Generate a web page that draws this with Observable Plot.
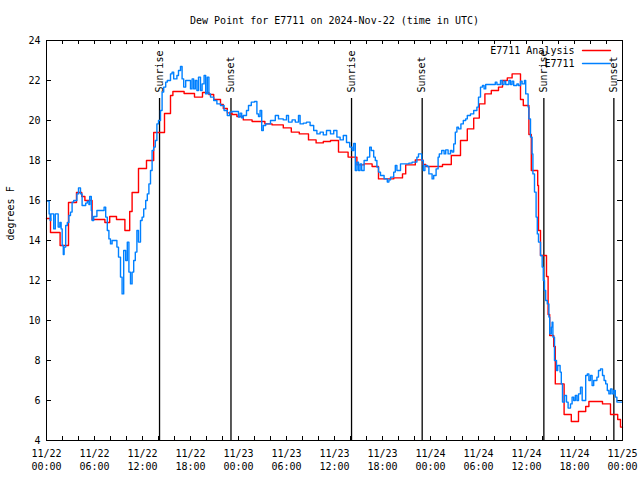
<!DOCTYPE html>
<html><head><meta charset="utf-8">
<script src="https://cdn.jsdelivr.net/npm/d3@7"></script>
<script src="https://cdn.jsdelivr.net/npm/@observablehq/plot@0.6"></script>
<style>body{margin:0;background:#fff}</style>
</head><body><div id="chart"></div>
<script>
const title = "Dew Point for E7711 on 2024-Nov-22 (time in UTC)";
const yLabel = "degrees F";
const startUTC = Date.UTC(2024, 10, 22, 0, 0);
const yTicks = [4, 6, 8, 10, 12, 14, 16, 18, 20, 22, 24];
const xTickHours = [0, 6, 12, 18, 24, 30, 36, 42, 48, 54, 60, 66, 72];
const xTickLabels = ["11/22\n00:00", "11/22\n06:00", "11/22\n12:00", "11/22\n18:00",
  "11/23\n00:00", "11/23\n06:00", "11/23\n12:00", "11/23\n18:00",
  "11/24\n00:00", "11/24\n06:00", "11/24\n12:00", "11/24\n18:00", "11/25\n00:00"];
const xMinorHours = [0, 2, 4, 6, 8, 10, 12, 14, 16, 18, 20, 22, 24, 26, 28, 30, 32, 34, 36,
  38, 40, 42, 44, 46, 48, 50, 52, 54, 56, 58, 60, 62, 64, 66, 68, 70, 72];
const eventNames = ["Sunrise", "Sunset", "Sunrise", "Sunset", "Sunrise", "Sunset"];
const eventHours = [14.13, 23.06, 38.13, 46.96, 62.17, 70.92];
const seriesNames = ["E7711 Analysis", "E7711"];
const seriesColors = ["#ff0000", "#0080ff"];

// [hours since 2024-11-22 00:00 UTC, dew point °F]
const analysis = [
  [0, 15.1], [0.5, 14.4], [1.7, 13.75], [2.75, 15.9], [3.75, 16.4], [4.4, 16.2], [4.8, 16.0],
  [5.7, 15.05], [7.3, 14.9], [7.9, 15.2], [8.75, 15.05], [9.8, 14.5], [10.4, 15.45], [10.7, 16.4],
  [11.5, 17.6], [12.5, 18.0], [13.4, 19.4], [14.75, 20.35], [15.5, 21.25], [15.8, 21.45],
  [17.2, 21.35], [18.5, 21.17], [19.5, 21.4], [20.3, 21.3], [20.9, 21.05], [21.75, 20.8],
  [22.1, 20.6], [22.6, 20.38], [23.2, 20.3], [23.8, 20.2], [24.6, 20.03], [25.7, 19.95],
  [27.3, 19.83], [28.2, 19.78], [29.6, 19.63], [30.6, 19.42], [31.6, 19.33], [32.75, 19.03],
  [33.7, 18.88], [34.6, 18.95], [35.5, 19.0], [36.5, 18.42], [37.7, 18.17], [38.8, 17.78],
  [39.7, 17.83], [40.7, 17.7], [41.5, 17.08], [43.4, 17.13], [44.5, 17.33], [44.9, 17.78],
  [46.1, 18.03], [47.05, 17.8], [47.4, 17.7], [49.5, 17.8], [50.6, 18.25], [51.75, 19.0],
  [52.6, 19.58], [53.4, 20.12], [54.1, 20.83], [54.8, 21.33], [55.6, 21.5], [56.5, 21.67],
  [57.0, 22.0], [57.6, 22.13], [58.2, 22.33], [59.25, 21.05], [59.6, 20.75], [60.3, 19.3],
  [60.6, 17.5], [61.4, 16.75], [61.5, 14.5], [61.75, 13.25], [62.5, 12.2], [62.7, 10.3],
  [62.9, 9.25], [63.4, 8.7], [63.6, 6.83], [64.7, 5.3], [65.6, 4.95], [66.5, 5.45], [67.4, 5.7],
  [67.8, 5.95], [69.5, 5.83], [70.5, 5.3], [71.4, 5.05], [71.75, 4.67], [72, 4.67]
];

const observed = [
  [0, 15.97], [0.33, 15.33], [0.45, 15.0], [0.55, 15.33], [0.9, 14.58], [1.1, 15.33], [1.46, 14.67],
  [1.67, 14.9], [1.83, 14.58], [1.96, 13.75], [2.1, 13.3], [2.2, 13.67], [2.4, 14.75], [2.6, 14.9],
  [2.8, 15.25], [3.0, 15.42], [3.2, 15.92], [3.4, 16.0], [3.8, 16.33], [4.0, 16.63], [4.25, 16.33],
  [4.45, 15.75], [4.9, 15.87], [5.1, 15.97], [5.3, 15.8], [5.4, 16.2], [5.6, 15.5], [5.7, 15.0],
  [5.9, 15.2], [6.3, 15.5], [7.2, 15.67], [7.4, 15.17], [7.6, 14.5], [7.8, 14.08], [8.0, 13.83],
  [8.2, 14.0], [8.8, 13.67], [9.0, 13.17], [9.25, 12.17], [9.45, 11.33], [9.65, 13.5], [9.9, 13.0],
  [10.1, 13.92], [10.3, 12.42], [10.5, 11.83], [10.7, 12.42], [10.9, 13.0], [11.1, 13.42],
  [11.3, 14.5], [11.5, 13.92], [11.75, 15.0], [11.95, 15.17], [12.15, 15.58], [12.4, 16.0],
  [12.6, 16.33], [12.8, 16.83], [13.0, 17.5], [13.2, 18.5], [13.4, 18.67], [13.6, 19.0],
  [13.8, 19.83], [14.0, 20.0], [14.25, 20.5], [14.45, 21.42], [14.65, 21.67], [14.9, 21.92],
  [15.1, 22.0], [15.5, 22.33], [15.7, 22.42], [15.9, 22.08], [16.3, 22.25], [16.5, 22.5],
  [16.75, 22.7], [16.95, 22.08], [17.15, 21.67], [17.4, 22.0], [18.0, 21.58], [18.2, 22.08],
  [18.4, 21.58], [18.6, 22.0], [18.8, 21.5], [19.0, 22.17], [19.25, 21.5], [19.45, 21.83],
  [19.7, 22.25], [19.9, 21.33], [20.1, 22.17], [20.3, 21.33], [20.5, 21.17], [20.9, 21.0],
  [21.3, 20.83], [21.75, 20.75], [22.2, 20.5], [22.6, 20.25], [22.9, 20.42], [23.2, 20.45],
  [24.0, 20.17], [24.2, 20.37], [24.4, 20.13], [24.6, 20.25], [25.0, 20.5], [25.25, 20.75],
  [25.6, 20.92], [26.0, 20.95], [26.3, 20.33], [26.5, 20.2], [26.7, 20.5], [26.9, 19.5],
  [27.1, 19.75], [27.4, 19.83], [28.0, 20.0], [28.6, 20.25], [29.0, 20.08], [29.6, 20.03],
  [30.0, 20.25], [30.25, 19.92], [30.7, 20.03], [31.1, 19.92], [31.5, 20.25], [31.7, 19.83],
  [32.1, 19.87], [32.5, 19.92], [32.95, 19.75], [33.4, 19.5], [33.8, 19.33], [34.2, 19.42],
  [34.6, 19.28], [35.0, 19.5], [35.5, 19.33], [35.9, 19.5], [36.3, 19.17], [36.7, 19.03],
  [37.1, 19.25], [37.5, 18.9], [37.9, 18.67], [38.2, 18.5], [38.4, 18.85], [38.6, 17.5],
  [38.8, 17.92], [39.0, 17.5], [39.2, 17.83], [39.4, 17.5], [39.7, 18.0], [40.1, 18.17],
  [40.4, 18.67], [40.6, 18.5], [40.9, 18.17], [41.1, 18.0], [41.3, 17.67], [41.5, 17.42],
  [41.75, 17.25], [42.2, 17.08], [42.6, 16.92], [42.8, 17.03], [43.0, 17.17], [43.4, 17.42],
  [43.6, 17.75], [43.8, 17.5], [44.25, 17.83], [45.3, 17.87], [45.7, 17.92], [46.3, 18.17],
  [46.5, 18.33], [46.9, 18.0], [47.1, 17.5], [47.3, 17.75], [47.6, 17.7], [47.8, 17.33],
  [48.2, 17.08], [48.4, 17.25], [48.7, 17.58], [48.95, 18.17], [49.1, 18.33], [49.4, 18.5],
  [49.7, 18.33], [49.9, 18.53], [50.2, 18.33], [50.5, 18.5], [50.7, 18.42], [50.9, 18.83],
  [51.1, 19.42], [51.3, 19.67], [51.5, 19.58], [51.8, 19.83], [52.1, 20.0], [52.4, 20.08],
  [52.6, 20.25], [53.0, 20.33], [53.4, 20.5], [53.8, 20.67], [54.0, 21.17], [54.25, 21.67],
  [54.5, 21.75], [54.7, 21.58], [54.9, 21.8], [56.1, 21.92], [56.3, 21.8], [56.75, 22.0],
  [56.96, 21.8], [57.2, 21.97], [57.4, 21.8], [57.8, 22.0], [58.0, 21.8], [58.2, 21.97],
  [58.4, 21.75], [58.8, 21.83], [59.0, 21.75], [59.25, 21.97], [59.45, 21.83], [59.75, 22.0],
  [59.9, 21.33], [60.2, 20.67], [60.3, 20.08], [60.5, 19.17], [60.7, 18.33], [60.8, 17.33],
  [61.0, 16.42], [61.2, 15.17], [61.35, 14.33], [61.5, 13.92], [61.75, 13.25], [61.96, 12.67],
  [62.1, 12.0], [62.25, 11.5], [62.4, 11.0], [62.6, 10.83], [62.8, 10.17], [62.9, 9.33],
  [63.1, 9.67], [63.2, 9.92], [63.3, 9.17], [63.5, 8.0], [63.75, 7.5], [63.9, 7.75], [64.2, 7.42],
  [64.35, 6.83], [64.5, 5.92], [64.75, 6.25], [65.0, 5.92], [65.2, 5.62], [65.5, 5.83],
  [65.7, 6.17], [65.9, 6.0], [66.1, 6.25], [66.3, 6.0], [66.5, 6.33], [66.75, 6.67], [66.96, 6.0],
  [67.4, 7.25], [67.6, 7.33], [67.8, 7.0], [68.0, 7.25], [68.2, 6.75], [68.4, 7.0], [68.8, 7.17],
  [69.0, 7.5], [69.25, 7.58], [69.5, 7.25], [69.7, 7.0], [69.9, 6.83], [70.1, 6.5], [70.3, 6.33],
  [70.5, 6.58], [70.7, 6.33], [70.9, 6.5], [71.1, 6.17], [71.3, 5.92], [72, 5.92]
];

const toDate = h => new Date(startUTC + h * 3600e3);
const events = eventHours.map((h, i) => ({date: toDate(h), name: eventNames[i]}));
const xTickDates = xTickHours.map(toDate);
const xMinorDates = xMinorHours.map(toDate);
const labelFor = d => xTickLabels[xTickDates.findIndex(t => +t === +d)] ?? "";

const lineShape = {draw(ctx, l) { ctx.moveTo(0, 0); ctx.lineTo(0, -l); }};

const chart = Plot.plot({
  width: 640, height: 480,
  marginLeft: 46, marginRight: 18, marginTop: 40, marginBottom: 40,
  style: {fontFamily: "'DejaVu Sans Mono', monospace", fontSize: "10px", background: "white", color: "black"},
  x: {type: "utc", domain: [toDate(0), toDate(72)]},
  y: {domain: [4, 24]},
  marks: [
    // inward ticks on all four sides
    Plot.tickX(xMinorDates, {x: d => d, insetTop: 396, stroke: "black"}),
    Plot.tickX(xMinorDates, {x: d => d, insetBottom: 396, stroke: "black"}),
    Plot.tickY(yTicks, {y: d => d, insetRight: 571, stroke: "black"}),
    Plot.tickY(yTicks, {y: d => d, insetLeft: 571, stroke: "black"}),
    // sunrise/sunset markers
    Plot.ruleX(events, {x: "date", insetTop: 58, stroke: "black", strokeWidth: 1.3}),
    Plot.text(events, {x: "date", text: "name", frameAnchor: "top", lineAnchor: "middle", dy: 52, rotate: -90, textAnchor: "start", fill: "black"}),
    // series
    Plot.line(analysis, {x: d => toDate(d[0]), y: d => d[1], curve: "step-after", stroke: seriesColors[0], strokeWidth: 1.4}),
    Plot.line(observed, {x: d => toDate(d[0]), y: d => d[1], curve: "step-after", stroke: seriesColors[1], strokeWidth: 1.4}),
    Plot.frame({stroke: "black"}),
    // axes
    Plot.axisX({ticks: xTickDates, tickFormat: labelFor, tickSize: 0, tickPadding: 7, lineHeight: 1.3, label: null, fill: "black"}),
    Plot.axisY({ticks: yTicks, tickSize: 0, tickPadding: 6, label: null, fill: "black"}),
    // title & y label
    Plot.text([title], {frameAnchor: "top", lineAnchor: "middle", dy: -20, fill: "black"}),
    Plot.text([yLabel], {frameAnchor: "left", lineAnchor: "middle", dx: -36, rotate: -90, fill: "black"}),
    // legend
    ...seriesNames.flatMap((name, i) => [
      Plot.text([name], {frameAnchor: "top-right", lineAnchor: "middle", dx: -48, dy: 10 + 13 * i, textAnchor: "end", fill: "black"}),
      Plot.vector([name], {frameAnchor: "top-right", dx: -40, dy: 10 + 13 * i, length: 28, rotate: 90, anchor: "start", shape: lineShape, stroke: seriesColors[i], strokeWidth: 1.4})
    ])
  ]
});
document.getElementById("chart").append(chart);
</script>
</body></html>
